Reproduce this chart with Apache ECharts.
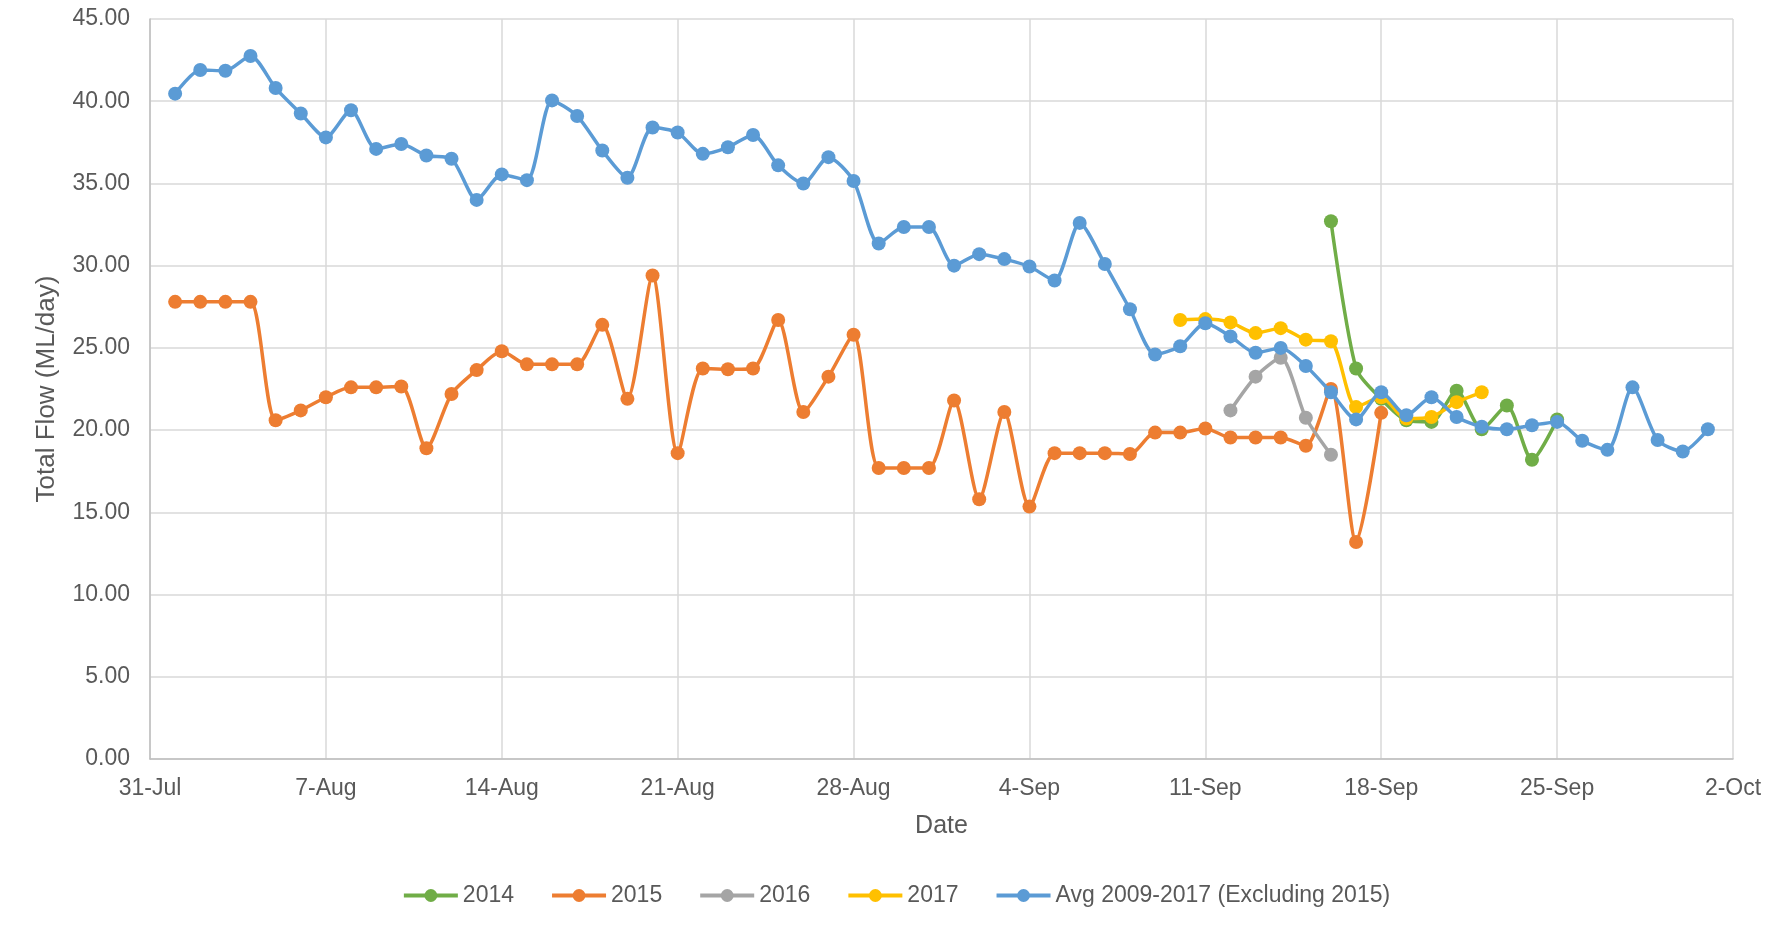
<!DOCTYPE html>
<html>
<head>
<meta charset="utf-8">
<script src="https://cdn.jsdelivr.net/npm/echarts@6/dist/echarts.min.js"></script>
<style>
html,body{margin:0;padding:0;background:#fff;}
#c{width:1792px;height:930px;}
</style>
</head>
<body>
<div id="c"></div>
<script>
// ---- Data ----
const tickLabels = ['31-Jul','7-Aug','14-Aug','21-Aug','28-Aug','4-Sep','11-Sep','18-Sep','25-Sep','2-Oct'];
const axisStart = '31-Jul';

const seriesNames = ['2014','2015','2016','2017','Avg 2009-2017 (Excluding 2015)'];

const dates2014 = ['16-Sep','17-Sep','18-Sep','19-Sep','20-Sep','21-Sep','22-Sep','23-Sep','24-Sep','25-Sep'];
const values2014 = [32.7,23.75,21.9,20.6,20.5,22.4,20.05,21.5,18.2,20.65];

const start2015 = '1-Aug';
const values2015 = [27.8,27.8,27.8,27.8,20.6,21.2,22.0,22.6,22.6,22.65,18.9,22.2,23.65,24.8,24.0,24.0,24.0,26.4,21.9,29.4,
  18.6,23.75,23.7,23.75,26.7,21.1,23.25,25.8,17.7,17.7,17.7,21.8,15.8,21.1,15.35,18.6,18.6,18.6,18.55,19.85,
  19.85,20.1,19.55,19.55,19.55,19.05,22.5,13.2,21.05];

const dates2016 = ['12-Sep','13-Sep','14-Sep','15-Sep','16-Sep'];
const values2016 = [21.2,23.25,24.4,20.75,18.5];

const dates2017 = ['10-Sep','11-Sep','12-Sep','13-Sep','14-Sep','15-Sep','16-Sep','17-Sep','18-Sep','19-Sep','20-Sep','21-Sep','22-Sep'];
const values2017 = [26.7,26.75,26.55,25.9,26.2,25.5,25.4,21.4,22.0,20.7,20.8,21.7,22.3];

const startAvg = '1-Aug';
const valuesAvg = [40.46,41.9,41.85,42.75,40.8,39.25,37.8,39.45,37.1,37.4,36.7,36.5,34.0,35.55,35.2,40.05,39.1,37.0,35.35,38.4,
  38.1,36.8,37.2,37.95,36.1,35.0,36.6,35.15,31.35,32.35,32.35,30.0,30.7,30.4,29.95,29.1,32.6,30.1,27.35,24.6,
  25.1,26.5,25.7,24.7,25.0,23.9,22.3,20.65,22.3,20.9,22.0,20.8,20.2,20.05,20.3,20.5,19.35,18.8,22.6,19.4,
  18.7,20.05];

const colors = ['#70AD47','#ED7D31','#A5A5A5','#FFC000','#5B9BD5'];

// ---- helpers: convert "d-Mon" to day offset from axis start ----
const MONTHS = {Jul:6, Aug:7, Sep:8, Oct:9};
function dayNum(s){
  const p = s.split('-');
  return Date.UTC(2017, MONTHS[p[1]], +p[0]) / 86400000;
}
const base = dayNum(axisStart);
function off(s){ return dayNum(s) - base; }
function pairsFromDates(ds, vs){ return vs.map((v,i)=>[off(ds[i]), v]); }
function pairsFromStart(st, vs){ const o = off(st); return vs.map((v,i)=>[o+i, v]); }

const seriesData = [
  pairsFromDates(dates2014, values2014),
  pairsFromStart(start2015, values2015),
  pairsFromDates(dates2016, values2016),
  pairsFromDates(dates2017, values2017),
  pairsFromStart(startAvg, valuesAvg)
];

const FONT = '"Liberation Sans", Arial, sans-serif';
const TXT = '#595959';

const chart = echarts.init(document.getElementById('c'), null, {renderer:'canvas'});
chart.setOption({
  animation:false,
  backgroundColor:'#ffffff',
  color: colors,
  textStyle:{fontFamily:FONT},
  grid:{left:150, right:59, top:19, bottom:171},
  legend:{
    top: 879,
    left:'center',
    itemWidth:54, itemHeight:16, itemGap:36,
    lineStyle:{width:4},
    textStyle:{fontSize:23, color:TXT, fontFamily:FONT},
    data: seriesNames
  },
  xAxis:{
    type:'value', min:0, max:(tickLabels.length-1)*7, interval:7,
    name:'Date', nameLocation:'middle', nameGap:55,
    nameTextStyle:{fontSize:25, color:TXT, fontFamily:FONT},
    axisLine:{show:true, lineStyle:{color:'#bfbfbf', width:1.5}},
    axisTick:{show:false},
    axisLabel:{fontSize:23, color:TXT, fontFamily:FONT, margin:18,
      formatter:v=>tickLabels[Math.round(v/7)] || ''},
    splitLine:{show:true, lineStyle:{color:'#d9d9d9', width:1.5}}
  },
  yAxis:{
    type:'value', min:0, max:45, interval:5,
    name:'Total Flow (ML/day)', nameLocation:'middle', nameGap:90,
    nameTextStyle:{fontSize:26, color:TXT, fontFamily:FONT},
    axisLine:{show:true, lineStyle:{color:'#bfbfbf', width:1.5}},
    axisTick:{show:false},
    axisLabel:{fontSize:23, color:TXT, fontFamily:FONT, margin:20,
      formatter:v=>v.toFixed(2)},
    splitLine:{show:true, lineStyle:{color:'#d9d9d9', width:1.5}}
  },
  series: seriesNames.map((n,i)=>({
    name:n, type:'line', data:seriesData[i],
    smooth:0.25,
    symbol:'circle', symbolSize:14,
    lineStyle:{width:3.5, color:colors[i]},
    itemStyle:{color:colors[i]},
    z: 2 + i
  }))
});
</script>
</body>
</html>
